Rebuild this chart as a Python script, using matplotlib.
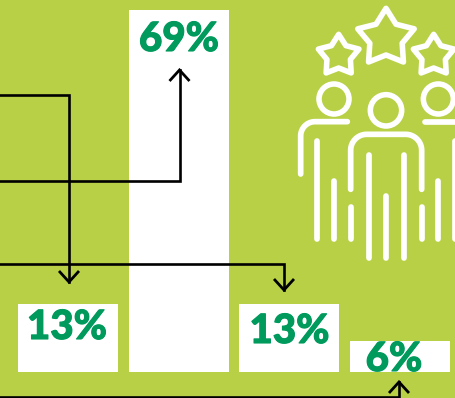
import numpy as np
import matplotlib
matplotlib.use('Agg')
import matplotlib.pyplot as plt
import matplotlib.patheffects as pe
from matplotlib.patches import Circle, Polygon

# chart values
shares = [13, 69, 13, 6]
labels = ['13%', '69%', '13%', '6%']

BG = '#B8D045'
GREEN = '#009A5D'
W, H = 455, 398

fig = plt.figure(figsize=(W / 100, H / 100), dpi=100, facecolor=BG)

# bars live in their own axes, percent on y
ax = fig.add_axes([0, 0, 1, 1], facecolor=BG)
ax.bar(range(len(shares)), shares, width=0.9036, color='white', linewidth=0)
ax.set_xlim(-0.614, 3.497)
ax.set_ylim(-4.956, 70.9)
ax.axis('off')

# overlay in pixel units for connectors, labels and the icon
ov = fig.add_axes([0, 0, 1, 1], facecolor='none')
ov.set_xlim(0, W)
ov.set_ylim(H, 0)
ov.axis('off')

# (start y, x of the turn, arrow tip y)
connectors = [(94.5, 69, 282), (180.5, 179.5, 70), (264, 284, 290), (396.5, 399, 382)]
for y0, xt, tip in connectors:
    ov.plot([0, xt, xt], [y0, y0, tip], color='black', lw=1.9, solid_joinstyle='miter')
    d = 11 if tip > y0 else -11
    ov.plot([xt - 10, xt, xt + 10], [tip - d, tip, tip - d], color='black', lw=2.0,
            solid_joinstyle='miter', solid_capstyle='butt')

# value labels, x centre and baseline
label_pos = [(67, 339), (179, 51), (289.5, 343), (394, 371)]
for txt, (x, y) in zip(labels, label_pos):
    ov.text(x, y, txt, ha='center', va='baseline', color=GREEN, fontsize=29,
            family='Lato', fontweight='black',
            path_effects=[pe.withStroke(linewidth=0.8, foreground=GREEN)])


# icon helpers, coordinates are given on a 3x grid offset by 290 px
def ix(v):
    return 290 + np.asarray(v, dtype=float) / 3


def iy(v):
    return np.asarray(v, dtype=float) / 3


def stroke(xs, ys):
    ov.plot(ix(xs), iy(ys), color='white', lw=4.1, solid_capstyle='round',
            solid_joinstyle='round')


def arc(cx, cy, r, a0, a1):
    t = np.radians(np.linspace(a0, a1, 20))
    return cx + r * np.cos(t), cy + r * np.sin(t)


def star(cx, cy, R, r):
    ang = np.radians(-90 + 36 * np.arange(10))
    rad = np.where(np.arange(10) % 2 == 0, R, r)
    pts = np.column_stack([ix(cx + rad * np.cos(ang)), iy(cy + rad * np.sin(ang))])
    ov.add_patch(Polygon(pts, closed=True, fill=False, edgecolor='white', lw=4.0,
                         joinstyle='round'))


star(288, 114, 89, 51)
star(146, 167, 64, 37)
star(431, 167, 64, 37)

for cx, cy, r in [(132, 297, 45), (288, 331, 47), (445, 297, 45)]:
    ov.add_patch(Circle((ix(cx), iy(cy)), r / 3, fill=False, edgecolor='white', lw=4.0))

# left figure
ax_, ay_ = arc(75, 408, 43, 180, 270)
stroke(np.r_[32, ax_, 172], np.r_[522, ay_, 365])
for x, y0, y1 in [(82, 424, 718), (132, 542, 718), (182, 622, 718)]:
    stroke([x, x], [y0, y1])

# centre figure
lx, ly = arc(230, 451, 48, 180, 270)
rx, ry = arc(347, 451, 48, 270, 360)
stroke(np.r_[182, lx, rx, 395], np.r_[568, ly, ry, 568])
for x, y0, y1 in [(236, 465, 775), (288, 588, 775), (342, 465, 775)]:
    stroke([x, x], [y0, y1])

# right figure runs off the edge
stroke([405, 520], [365, 365])
for x, y0, y1 in [(395, 622, 718), (445, 542, 718), (495, 424, 718)]:
    stroke([x, x], [y0, y1])

fig.savefig('out.png', dpi=100, facecolor=BG)
